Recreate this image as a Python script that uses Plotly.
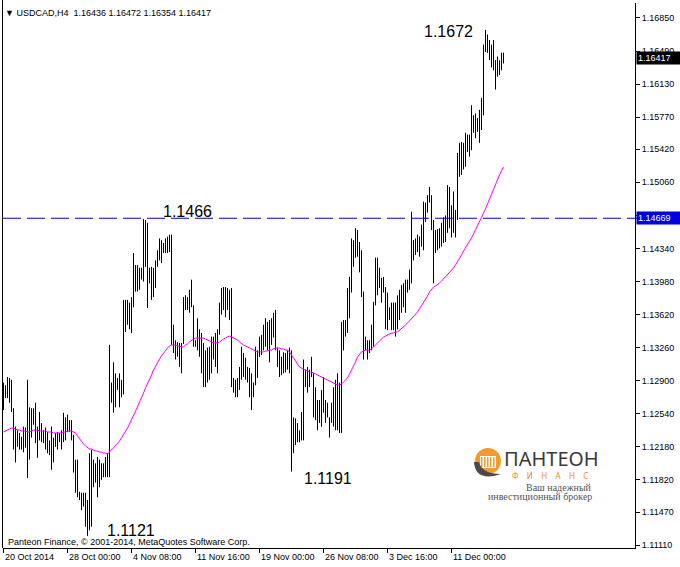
import plotly.graph_objects as go

# ---------------- data (USDCAD, H4) ----------------
high = [
    1.1288, 1.1285, 1.1294, 1.1293, 1.1291, 1.1260, 1.1240, 1.1236, 1.1233, 1.1229,
    1.1240, 1.1239, 1.1291, 1.1261, 1.1260, 1.1260, 1.1266, 1.1240, 1.1256, 1.1244,
    1.1236, 1.1239, 1.1234, 1.1225, 1.1240, 1.1228, 1.1233, 1.1234, 1.1233, 1.1236,
    1.1255, 1.1250, 1.1253, 1.1247, 1.1247, 1.1231, 1.1204, 1.1204, 1.1169, 1.1168,
    1.1168, 1.1168, 1.1160, 1.1211, 1.1215, 1.1204, 1.1200, 1.1207, 1.1204, 1.1200,
    1.1200, 1.1207, 1.1211, 1.1329, 1.1288, 1.1310, 1.1298, 1.1293, 1.1298, 1.1291,
    1.1378, 1.1378, 1.1378, 1.1375, 1.1381, 1.1429, 1.1416, 1.1416, 1.1413, 1.1413,
    1.1466, 1.1465, 1.1462, 1.1413, 1.1414, 1.1413, 1.1421, 1.1432, 1.1445, 1.1443,
    1.1440, 1.1445, 1.1447, 1.1449, 1.1449, 1.1351, 1.1334, 1.1332, 1.1331, 1.1331,
    1.1381, 1.1383, 1.1381, 1.1389, 1.1400, 1.1372, 1.1334, 1.1358, 1.1346, 1.1342,
    1.1331, 1.1323, 1.1326, 1.1327, 1.1338, 1.1338, 1.1342, 1.1346, 1.1375, 1.1391,
    1.1392, 1.1392, 1.1391, 1.1389, 1.1391, 1.1293, 1.1291, 1.1293, 1.1305, 1.1327,
    1.1320, 1.1315, 1.1305, 1.1304, 1.1298, 1.1288, 1.1327, 1.1323, 1.1338, 1.1340,
    1.1351, 1.1358, 1.1354, 1.1356, 1.1358, 1.1364, 1.1367, 1.1326, 1.1323, 1.1316,
    1.1321, 1.1320, 1.1323, 1.1326, 1.1323, 1.1250, 1.1249, 1.1244, 1.1236, 1.1256,
    1.1313, 1.1302, 1.1305, 1.1302, 1.1316, 1.1298, 1.1283, 1.1269, 1.1269, 1.1280,
    1.1294, 1.1269, 1.1266, 1.1250, 1.1266, 1.1283, 1.1291, 1.1298, 1.1288, 1.1354,
    1.1356, 1.1356, 1.1391, 1.1403, 1.1445, 1.1443, 1.1456, 1.1454, 1.1441, 1.1432,
    1.1387, 1.1338, 1.1334, 1.1334, 1.1351, 1.1376, 1.1424, 1.1424, 1.1413, 1.1402,
    1.1403, 1.1392, 1.1386, 1.1370, 1.1375, 1.1375, 1.1375, 1.1383, 1.1389, 1.1394,
    1.1396, 1.1400, 1.1400, 1.1411, 1.1474, 1.1443, 1.1445, 1.1449, 1.1447, 1.1460,
    1.1485, 1.1484, 1.1492, 1.1501, 1.1492, 1.1465, 1.1454, 1.1455, 1.1456, 1.1462,
    1.1468, 1.1470, 1.1503, 1.1501, 1.1481, 1.1496, 1.1476, 1.1538, 1.1549, 1.1550,
    1.1549, 1.1560, 1.1558, 1.1558, 1.1590, 1.1579, 1.1581, 1.1576, 1.1585, 1.1598,
    1.1656, 1.1672, 1.1667, 1.1661, 1.1656, 1.1661, 1.1639, 1.1643, 1.1639, 1.1647, 1.16472,
]
low = [
    1.1258, 1.1271, 1.1271, 1.1266, 1.1256, 1.1215, 1.1201, 1.1218, 1.1215, 1.1215,
    1.1212, 1.1217, 1.1184, 1.1204, 1.1228, 1.1242, 1.1222, 1.1206, 1.1225, 1.1223,
    1.1222, 1.1215, 1.1211, 1.1209, 1.1193, 1.1201, 1.1218, 1.1215, 1.1223, 1.1215,
    1.1223, 1.1225, 1.1234, 1.1234, 1.1225, 1.1190, 1.1168, 1.1163, 1.1160, 1.1149,
    1.1153, 1.1131, 1.1121, 1.1127, 1.1131, 1.1174, 1.1179, 1.1163, 1.1174, 1.1182,
    1.1185, 1.1185, 1.1185, 1.1185, 1.1266, 1.1255, 1.1261, 1.1280, 1.1261, 1.1272,
    1.1275, 1.1343, 1.1351, 1.1346, 1.1342, 1.1370, 1.1387, 1.1387, 1.1389, 1.1400,
    1.1398, 1.1414, 1.1369, 1.1396, 1.1378, 1.1381, 1.1391, 1.1414, 1.1421, 1.1418,
    1.1429, 1.1429, 1.1429, 1.1430, 1.1329, 1.1320, 1.1313, 1.1316, 1.1305, 1.1298,
    1.1330, 1.1367, 1.1367, 1.1364, 1.1370, 1.1327, 1.1327, 1.1323, 1.1316, 1.1298,
    1.1283, 1.1283, 1.1288, 1.1291, 1.1298, 1.1313, 1.1305, 1.1298, 1.1340, 1.1362,
    1.1367, 1.1359, 1.1367, 1.1356, 1.1283, 1.1277, 1.1272, 1.1272, 1.1280, 1.1291,
    1.1294, 1.1291, 1.1288, 1.1272, 1.1258, 1.1272, 1.1285, 1.1293, 1.1316, 1.1318,
    1.1323, 1.1327, 1.1323, 1.1310, 1.1329, 1.1337, 1.1323, 1.1305, 1.1294, 1.1296,
    1.1298, 1.1299, 1.1302, 1.1298, 1.1191, 1.1211, 1.1220, 1.1223, 1.1223, 1.1225,
    1.1225, 1.1283, 1.1277, 1.1283, 1.1294, 1.1250, 1.1247, 1.1236, 1.1244, 1.1240,
    1.1255, 1.1244, 1.1250, 1.1228, 1.1244, 1.1240, 1.1236, 1.1236, 1.1233, 1.1233,
    1.1323, 1.1338, 1.1342, 1.1358, 1.1386, 1.1414, 1.1424, 1.1425, 1.1408, 1.1381,
    1.1313, 1.1323, 1.1313, 1.1320, 1.1323, 1.1327, 1.1372, 1.1383, 1.1391, 1.1375,
    1.1386, 1.1346, 1.1345, 1.1356, 1.1345, 1.1345, 1.1338, 1.1346, 1.1356, 1.1364,
    1.1370, 1.1364, 1.1386, 1.1389, 1.1396, 1.1421, 1.1427, 1.1430, 1.1425, 1.1436,
    1.1432, 1.1463, 1.1473, 1.1484, 1.1454, 1.1396, 1.1429, 1.1432, 1.1434, 1.1436,
    1.1440, 1.1441, 1.1451, 1.1456, 1.1446, 1.1451, 1.1446, 1.1465, 1.1512, 1.1514,
    1.1520, 1.1523, 1.1539, 1.1534, 1.1541, 1.1560, 1.1554, 1.1561, 1.1549, 1.1563,
    1.1579, 1.1648, 1.1647, 1.1639, 1.1631, 1.1628, 1.1607, 1.1621, 1.1623, 1.1628, 1.16354,
]
ma = [
    1.12341, 1.12352, 1.12363, 1.12374, 1.12385, 1.12385, 1.12374, 1.12363, 1.12363, 1.12352,
    1.12352, 1.12352, 1.12341, 1.12341, 1.12352, 1.12363, 1.12363, 1.12363, 1.12352, 1.12352,
    1.12352, 1.12352, 1.12341, 1.12341, 1.12341, 1.12330, 1.12330, 1.12330, 1.12330, 1.12330,
    1.12341, 1.12341, 1.12352, 1.12352, 1.12352, 1.12341, 1.12330, 1.12298, 1.12265, 1.12243,
    1.12211, 1.12189, 1.12167, 1.12156, 1.12156, 1.12145, 1.12134, 1.12134, 1.12123, 1.12123,
    1.12112, 1.12112, 1.12101, 1.12123, 1.12145, 1.12167, 1.12189, 1.12211, 1.12243, 1.12276,
    1.12309, 1.12341, 1.12385, 1.12428, 1.12472, 1.12516, 1.12570, 1.12614, 1.12668, 1.12712,
    1.12766, 1.12821, 1.12864, 1.12918, 1.12962, 1.13016, 1.13060, 1.13103, 1.13136, 1.13169,
    1.13202, 1.13234, 1.13256, 1.13278, 1.13289, 1.13289, 1.13289, 1.13278, 1.13278, 1.13267,
    1.13267, 1.13289, 1.13300, 1.13321, 1.13343, 1.13354, 1.13365, 1.13365, 1.13365, 1.13365,
    1.13365, 1.13354, 1.13343, 1.13332, 1.13321, 1.13311, 1.13311, 1.13311, 1.13321, 1.13343,
    1.13354, 1.13365, 1.13376, 1.13387, 1.13376, 1.13365, 1.13354, 1.13343, 1.13321, 1.13300,
    1.13289, 1.13278, 1.13267, 1.13256, 1.13245, 1.13234, 1.13224, 1.13213, 1.13213, 1.13213,
    1.13213, 1.13224, 1.13224, 1.13234, 1.13234, 1.13245, 1.13256, 1.13256, 1.13256, 1.13245,
    1.13245, 1.13234, 1.13234, 1.13213, 1.13180, 1.13147, 1.13114, 1.13082, 1.13049, 1.13038,
    1.13027, 1.13016, 1.13005, 1.12995, 1.12995, 1.12984, 1.12973, 1.12962, 1.12951, 1.12940,
    1.12929, 1.12918, 1.12908, 1.12897, 1.12886, 1.12875, 1.12864, 1.12853, 1.12853, 1.12864,
    1.12886, 1.12908, 1.12929, 1.12973, 1.13016, 1.13049, 1.13103, 1.13158, 1.13191, 1.13213,
    1.13224, 1.13234, 1.13234, 1.13234, 1.13245, 1.13267, 1.13289, 1.13311, 1.13332, 1.13354,
    1.13376, 1.13387, 1.13398, 1.13408, 1.13419, 1.13419, 1.13430, 1.13430, 1.13452, 1.13463,
    1.13485, 1.13507, 1.13528, 1.13550, 1.13572, 1.13605, 1.13626, 1.13648, 1.13681, 1.13714,
    1.13746, 1.13790, 1.13822, 1.13866, 1.13898, 1.13920, 1.13931, 1.13953, 1.13964, 1.13985,
    1.14007, 1.14029, 1.14051, 1.14072, 1.14094, 1.14127, 1.14160, 1.14192, 1.14236, 1.14269,
    1.14312, 1.14345, 1.14377, 1.14410, 1.14454, 1.14497, 1.14541, 1.14585, 1.14628, 1.14672,
    1.14716, 1.14770, 1.14824, 1.14879, 1.14934, 1.14988, 1.15043, 1.15086, 1.15141, 1.15184, 1.15228,
]
time_tick_bars = [0, 32, 64, 96, 128, 160, 192, 224]
time_tick_labels = ["20 Oct 2014", "28 Oct 00:00", "4 Nov 08:00", "11 Nov 16:00",
                    "19 Nov 00:00", "26 Nov 08:00", "3 Dec 16:00", "11 Dec 00:00"]
price_ticks = [1.16850, 1.16490, 1.16130, 1.15770, 1.15420, 1.15060, 1.14700, 1.14340,
               1.13980, 1.13620, 1.13260, 1.12900, 1.12540, 1.12180, 1.11820, 1.11470, 1.11110]
level_price = 1.14669
last_price = 1.16417
header_ohlc = ["1.16436", "1.16472", "1.16354", "1.16417"]
marked_levels = ["1.1672", "1.1466", "1.1191", "1.1121"]

# ---------------- layout geometry ----------------
W, H = 680, 567
PL, PR, PT, PB = 3, 635, 3, 548


def pxx(x):
    return (x - PL) / (PR - PL)


def pxy(y):
    return (PB - y) / (PB - PT)


bars = list(range(len(high)))
FONT = "Liberation Sans, Arial, sans-serif"
BLUE = "#0000DC"

# each bar drawn as a vertical low-high stroke (H4 bars at this zoom level show no ticks)
bx, by = [], []
for i, h, l in zip(bars, high, low):
    bx += [i, i, None]
    by += [l, h, None]

fig = go.Figure()
fig.add_trace(go.Scatter(
    x=bx, y=by, mode="lines", line=dict(color="black", width=1),
    hoverinfo="skip", showlegend=False, connectgaps=False))
fig.add_trace(go.Scatter(
    x=bars, y=ma, mode="lines", line=dict(color="#FF00FF", width=1),
    hoverinfo="skip", showlegend=False))

annotations = []
for b, t in zip(time_tick_bars, time_tick_labels):
    annotations.append(dict(x=b, xref="x", y=0, yref="paper", text=t, showarrow=False,
                            xanchor="left", yanchor="top", xshift=-0.5, yshift=-2,
                            font=dict(family=FONT, size=9, color="black")))
annotations.append(dict(x=pxx(3), y=pxy(13), xref="paper", yref="paper",
                        text="▼ USDCAD,H4\u00a0\u00a0" + " ".join(header_ohlc),
                        showarrow=False, xanchor="left", yanchor="middle",
                        font=dict(family=FONT, size=9, color="black")))
annotations.append(dict(x=pxx(6), y=pxy(542), xref="paper", yref="paper",
                        text="Panteon Finance, © 2001-2014, MetaQuotes Software Corp.",
                        showarrow=False, xanchor="left", yanchor="middle",
                        font=dict(family=FONT, size=9, color="black")))
for txt, (lx, ly) in zip(marked_levels, [(422, 31), (161, 211), (302, 478), (105, 530)]):
    annotations.append(dict(x=pxx(lx), y=pxy(ly), xref="paper", yref="paper", text=txt,
                            showarrow=False, xanchor="left", yanchor="middle",
                            font=dict(family=FONT, size=16, color="black")))
annotations.append(dict(x=1, xref="paper", y=last_price, yref="y", text=f"{last_price:.5f}",
                        showarrow=False, xanchor="left", yanchor="middle", xshift=1,
                        bgcolor="black", borderpad=1, width=41, align="left",
                        font=dict(family=FONT, size=9, color="white")))
annotations.append(dict(x=1, xref="paper", y=level_price, yref="y", text=f"{level_price:.5f}",
                        showarrow=False, xanchor="left", yanchor="middle", xshift=1,
                        bgcolor=BLUE, borderpad=1, width=41, align="left",
                        font=dict(family=FONT, size=9, color="white")))
annotations.append(dict(x=pxx(502), y=pxy(458), xref="paper", yref="paper", text="ПАНТЕОН",
                        showarrow=False, xanchor="left", yanchor="middle",
                        font=dict(family="Noto Sans, sans-serif", size=20, color="#3a3a3a")))
annotations.append(dict(x=pxx(550), y=pxy(475), xref="paper", yref="paper",
                        text="Ф\u00a0\u00a0\u00a0 И\u00a0\u00a0\u00a0 Н\u00a0\u00a0\u00a0 А\u00a0\u00a0\u00a0 Н\u00a0\u00a0\u00a0 С",
                        showarrow=False, xanchor="center", yanchor="middle",
                        font=dict(family="Noto Sans, sans-serif", size=8, color="#EE8A22")))
annotations.append(dict(x=pxx(594), y=pxy(487), xref="paper", yref="paper", text="Ваш надежный",
                        showarrow=False, xanchor="right", yanchor="middle",
                        font=dict(family="Liberation Serif, serif", size=10, color="#555555")))
annotations.append(dict(x=pxx(594), y=pxy(497), xref="paper", yref="paper",
                        text="инвестиционный брокер",
                        showarrow=False, xanchor="right", yanchor="middle",
                        font=dict(family="Liberation Serif, serif", size=10, color="#555555")))

shapes = [
    dict(type="line", xref="paper", yref="y", x0=0, x1=1, y0=level_price, y1=level_price,
         line=dict(color=BLUE, width=1, dash="18px,6px")),
    dict(type="line", xref="paper", yref="y", x0=1, x1=pxx(638), y0=level_price, y1=level_price,
         line=dict(color=BLUE, width=1)),
    dict(type="line", xref="paper", yref="paper", x0=pxx(2.5), x1=pxx(2.5), y0=0, y1=pxy(0),
         line=dict(color="black", width=1)),
    dict(type="circle", xref="paper", yref="paper", x0=pxx(475), x1=pxx(501),
         y0=pxy(474), y1=pxy(448), fillcolor="#F39A2E", line=dict(width=0)),
    dict(type="rect", xref="paper", yref="paper", x0=pxx(480), x1=pxx(496),
         y0=pxy(468), y1=pxy(456), fillcolor="white", line=dict(width=0)),
]
for cx in (481, 484, 487, 490, 493):
    shapes.append(dict(type="rect", xref="paper", yref="paper", x0=pxx(cx), x1=pxx(cx + 1.5),
                       y0=pxy(467), y1=pxy(457), fillcolor="#F39A2E", line=dict(width=0)))
shapes.append(dict(type="path", xref="paper", yref="paper",
                   path=(f"M {pxx(474)},{pxy(462)} Q {pxx(475)},{pxy(479)} {pxx(494)},{pxy(476)} "
                         f"L {pxx(501)},{pxy(474)} Q {pxx(482)},{pxy(474)} {pxx(479)},{pxy(462)} Z"),
                   fillcolor="#4A4A4A", line=dict(width=0)))

fig.update_layout(
    width=W, height=H,
    margin=dict(l=PL, r=W - PR, t=PT, b=H - PB, pad=0),
    paper_bgcolor="white", plot_bgcolor="white",
    showlegend=False, hovermode=False,
    xaxis=dict(range=[-0.25, (PR - PL) / 2 - 0.25], showgrid=False, zeroline=False,
               showline=True, linecolor="black", linewidth=1,
               tickmode="array", tickvals=time_tick_bars, ticks="outside", ticklen=4,
               tickcolor="black", showticklabels=False, fixedrange=True),
    yaxis=dict(range=[1.11078, 1.17013], side="right", showgrid=False, zeroline=False,
               showline=True, linecolor="black", linewidth=1,
               tickmode="array", tickvals=price_ticks,
               ticktext=[f"{v:.5f}" for v in price_ticks],
               ticks="outside", ticklen=4, tickcolor="black",
               tickfont=dict(family=FONT, size=9, color="black"), fixedrange=True),
    annotations=annotations,
    shapes=shapes,
    font=dict(family=FONT),
)

fig.write_html("out.html", config={"displayModeBar": False, "staticPlot": True},
               post_script="document.body.style.margin='0';document.body.style.overflow='hidden';")
